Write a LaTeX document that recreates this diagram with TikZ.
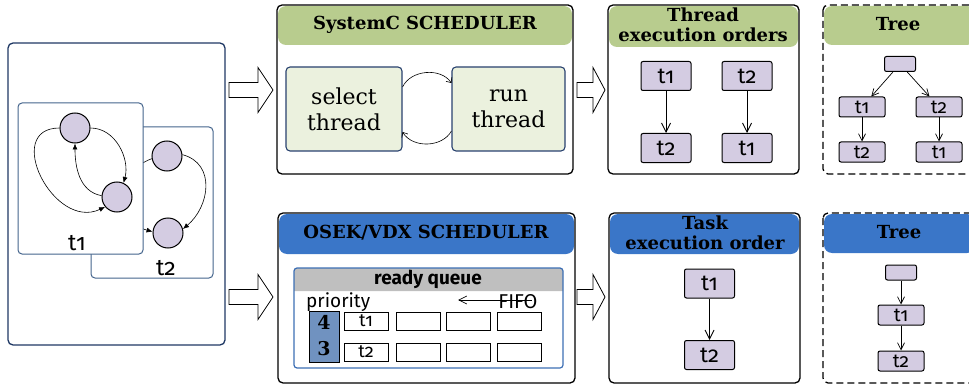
\documentclass[tikz,border=0pt]{standalone}
\usepackage{fontspec}
\setmainfont{DejaVu Serif}
\newfontfamily\labelfont[Numbers=OldStyle]{Fira Sans}
\usetikzlibrary{arrows.meta}

\definecolor{headgreen}{RGB}{184,204,142}
\definecolor{headblue}{RGB}{58,118,200}
\definecolor{selfill}{RGB}{235,241,222}
\definecolor{selborder}{RGB}{40,65,110}
\definecolor{lavender}{RGB}{212,204,226}
\definecolor{navy}{RGB}{31,56,100}
\definecolor{gboxline}{RGB}{68,100,140}
\definecolor{queueline}{RGB}{60,110,180}
\definecolor{priofill}{RGB}{112,146,192}
\definecolor{qgray}{RGB}{191,191,191}

\tikzset{
  panel/.style={draw=black,line width=1.3pt,rounded corners=5pt},
  treepanel/.style={panel,dash pattern=on 7pt off 4pt},
  header/.style={font=\bfseries\fontsize{18}{20}\selectfont,align=center,inner sep=0pt},
  outer/.style={draw=navy,line width=1.3pt,rounded corners=5pt},
  threadbox/.style={draw=gboxline,fill=white,line width=1pt,rounded corners=4pt},
  state/.style={circle,draw,fill=lavender,minimum size=30pt,inner sep=0pt,line width=1pt},
  edge/.style={-{Latex[length=6pt,width=5pt]},line width=0.6pt},
  tlabel/.style={font=\labelfont\fontsize{23}{23}\selectfont,anchor=base,inner sep=0pt},
  stepbox/.style={draw=selborder,fill=selfill,rounded corners=4pt,line width=1.1pt,
    minimum height=84pt,align=center,inner sep=0pt,font=\fontsize{22}{26}\selectfont},
  cycle arrow/.style={-{Straight Barb[length=4pt,width=7pt]},line width=0.6pt},
  task/.style={draw,fill=lavender,rounded corners=2pt,line width=1pt,inner sep=0pt,
    minimum width=50pt,minimum height=29pt,font=\labelfont\fontsize{22}{22}\selectfont},
  treenode/.style={task,minimum width=46pt,minimum height=20pt,font=\labelfont\fontsize{19}{19}\selectfont},
  treeroot/.style={task,minimum width=31pt,minimum height=15pt},
  order/.style={-{Straight Barb[length=9pt,width=9pt]},line width=0.9pt},
  treeedge/.style={-{Straight Barb[length=7pt,width=7pt]},line width=0.7pt},
  cell/.style={draw,line width=0.8pt,minimum width=44pt,minimum height=18pt,inner sep=0pt,
    font=\labelfont\fontsize{18}{18}\selectfont},
  bigarrow/.style={draw,fill=white,line width=0.8pt}
}

\begin{document}
\begin{tikzpicture}[x=1pt,y=1pt]
  \useasboundingbox (0,0) rectangle (969,-385);

  % the two threads
  \draw[outer] (8,-43) rectangle (225,-345);
  \draw[threadbox] (91,-127) rectangle (213,-278);
  \node[state] (c2) at (167,-156) {};
  \node[state] (d2) at (168,-233) {};
  \draw[edge] (c2.5) to[out=-15,in=40,looseness=1.2] (d2.15);
  \draw[edge] (c2.190) to[out=200,in=165,looseness=1.4] (d2.175);
  \draw[threadbox] (18,-103) rectangle (143,-254);
  \node[state] (a1) at (75,-128) {};
  \node[state] (b1) at (117,-197) {};
  \draw[edge] (a1.0) to[out=0,in=75] (b1.65);
  \draw[edge] (b1.175) to[out=170,in=-90] (a1.south);
  \draw[edge] (a1.180) to[out=180,in=205,looseness=1.6] (b1.220);
  \node[tlabel] (lab1) at (77,-250) {t1};
  \node[tlabel] (lab2) at (166,-275) {t2};

  % block arrows
  \foreach \x/\y/\s/\h in {229/-90/29/15,229/-297/29/15,577/-90/16/12,577/-297/16/12}
    \draw[bigarrow] (\x,\y+7.5) -- ++(\s,0) -- ++(0,15) -- (\x+\s+\h,\y)
      -- (\x+\s,\y-22.5) -- ++(0,15) -- (\x,\y-7.5) -- cycle;

  % SystemC scheduler
  \fill[headgreen,rounded corners=8pt] (278,-6) rectangle (572,-45);
  \draw[panel] (277,-5) rectangle (573,-174);
  \node[header] (schedA) at (425,-25) {SystemC SCHEDULER};
  \node[stepbox,minimum width=116pt] (sel) at (344,-109) {select\\thread};
  \node[stepbox,minimum width=113pt] (run) at (508.5,-109) {run\\thread};
  \draw[cycle arrow] ([yshift=22pt]sel.east) to[bend left=60] ([yshift=26pt]run.west);
  \draw[cycle arrow] ([yshift=-22pt]run.west) to[bend left=60] ([yshift=-23pt]sel.east);

  % thread execution orders
  \fill[headgreen,rounded corners=8pt] (609,-6) rectangle (798,-47);
  \draw[panel] (608,-5) rectangle (799,-174);
  \node[header,font=\bfseries\fontsize{18}{20}\selectfont] (ordA) at (703,-25) {Thread\\execution orders};
  \node[task] (o11) at (666,-76) {t1};
  \node[task] (o12) at (666,-148) {t2};
  \node[task] (o21) at (747,-76) {t2};
  \node[task] (o22) at (747,-148) {t1};
  \draw[order] (o11) -- (o12);
  \draw[order] (o21) -- (o22);

  % tree of both orders
  \fill[headgreen,rounded corners=8pt] (824,-6) rectangle (975,-45);
  \draw[treepanel] (823,-5) rectangle (975,-174);
  \node[header] (treeA) at (898,-24) {Tree};
  \node[treeroot] (ra) at (900,-64) {};
  \node[treenode] (ra1) at (862,-107) {t1};
  \node[treenode] (ra2) at (939,-107) {t2};
  \node[treenode] (ra12) at (862,-152) {t2};
  \node[treenode] (ra21) at (939,-152) {t1};
  \draw[treeedge] (ra) -- (ra1);
  \draw[treeedge] (ra) -- (ra2);
  \draw[treeedge] (ra1) -- (ra12);
  \draw[treeedge] (ra2) -- (ra21);

  % OSEK/VDX scheduler
  \fill[headblue,rounded corners=8pt] (279,-214) rectangle (574,-254);
  \draw[panel] (278,-213) rectangle (575,-383);
  \node[header] (schedB) at (426,-233) {OSEK/VDX SCHEDULER};
  \fill[qgray] (294,-291) [rounded corners=3pt] -- (294,-268) -- (563,-268) [sharp corners] -- (563,-291) -- cycle;
  \draw[draw=queueline,line width=1.2pt,rounded corners=3pt] (294,-268) rectangle (563,-368);
  \node[font=\labelfont\bfseries\fontsize{19}{19}\selectfont] (rq) at (428,-279.5) {ready queue};
  \node[font=\labelfont\fontsize{19}{19}\selectfont,anchor=base west,inner sep=0pt] (prio) at (306,-307) {priority};
  \node[font=\labelfont\fontsize{20}{20}\selectfont,anchor=base,inner sep=0pt] (fifo) at (518,-308) {FIFO};
  \coordinate (fifotip) at (458,-300);
  \draw[-{Straight Barb[length=8pt,width=8pt]},line width=0.7pt] ([xshift=-6pt]fifo.east |- fifotip) -- (fifotip);
  \draw[fill=priofill,line width=0.8pt] (309,-311) rectangle (339,-362);
  \node[font=\bfseries\fontsize{19}{19}\selectfont] (p4) at (324,-322) {4};
  \node[font=\bfseries\fontsize{19}{19}\selectfont] (p3) at (324,-349) {3};
  \node[cell] (q41) at (366,-321) {t1};
  \node[cell] (q31) at (366,-352) {t2};
  \foreach \c/\x in {2/418,3/468,4/519} {
    \node[cell] (q4\c) at (\x,-321) {};
    \node[cell] (q3\c) at (\x,-352) {};
  }

  % task execution order
  \fill[headblue,rounded corners=8pt] (610,-214) rectangle (799,-254);
  \draw[panel] (609,-213) rectangle (800,-383);
  \node[header,font=\bfseries\fontsize{18}{20}\selectfont] (ordB) at (705,-233) {Task\\execution order};
  \node[task] (k1) at (709.5,-283.5) {t1};
  \node[task] (k2) at (709.5,-355) {t2};
  \draw[order] (k1) -- (k2);

  % tree of the one order
  \fill[headblue,rounded corners=8pt] (824,-214) rectangle (975,-253);
  \draw[treepanel] (823,-213) rectangle (975,-383);
  \node[header] (treeB) at (899,-232) {Tree};
  \node[treeroot] (rb) at (901,-272.5) {};
  \node[treenode] (rb1) at (901,-315) {t1};
  \node[treenode] (rb2) at (901,-361) {t2};
  \draw[treeedge] (rb) -- (rb1);
  \draw[treeedge] (rb1) -- (rb2);
\end{tikzpicture}
\end{document}
